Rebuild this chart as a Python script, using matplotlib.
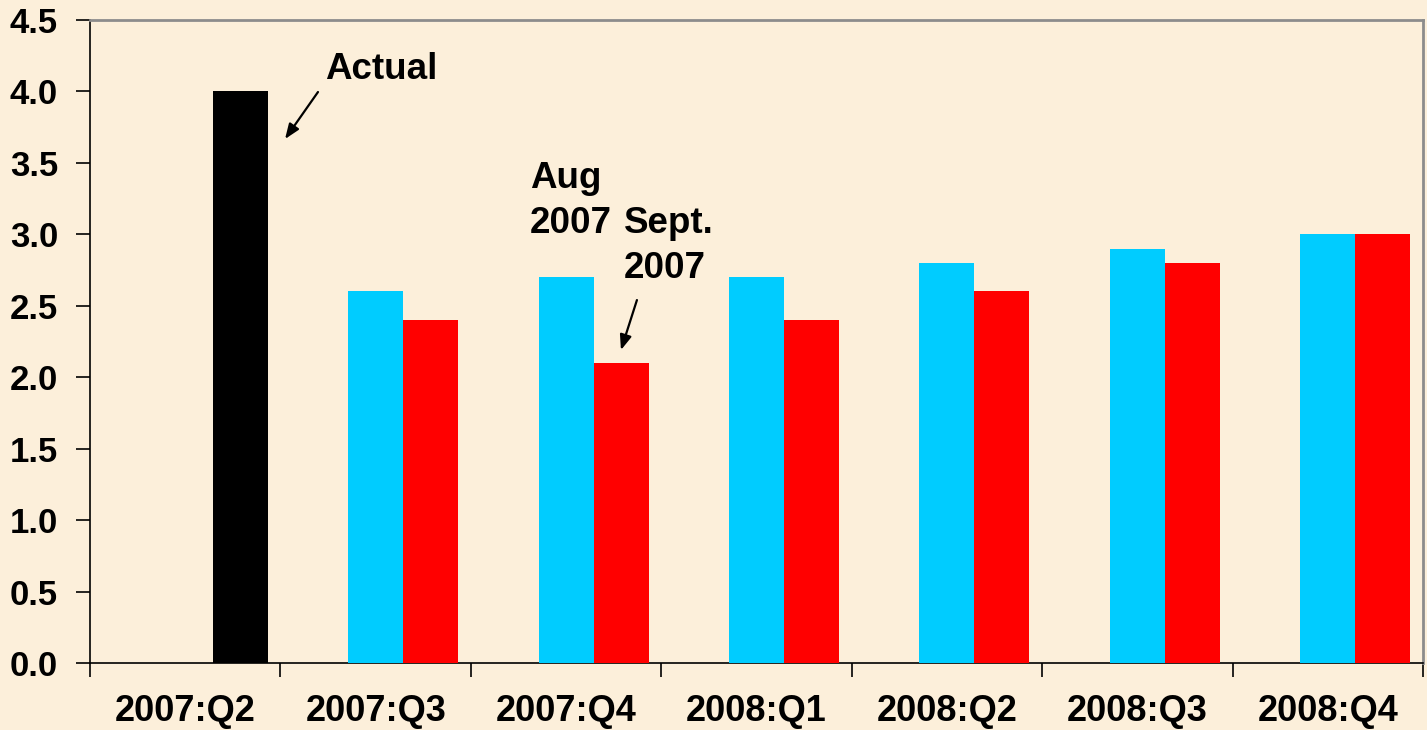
import numpy as np
import matplotlib.pyplot as plt
from matplotlib.ticker import FixedLocator, FormatStrFormatter

plt.rcParams['font.family'] = ['Liberation Sans', 'DejaVu Sans']
plt.rcParams['font.weight'] = 'bold'

# data
quarters = ['2007:Q2', '2007:Q3', '2007:Q4', '2008:Q1', '2008:Q2', '2008:Q3', '2008:Q4']
actual = [4.0, np.nan, np.nan, np.nan, np.nan, np.nan, np.nan]
aug_2007 = [np.nan, 2.6, 2.7, 2.7, 2.8, 2.9, 3.0]
sept_2007 = [np.nan, 2.4, 2.1, 2.4, 2.6, 2.8, 3.0]

bg = '#FCEFDA'
fig = plt.figure(figsize=(14.27, 7.30), dpi=100, facecolor=bg)
ax = fig.add_axes([0.0631, 0.0918, 0.9341, 0.8808], facecolor=bg)

x = np.arange(len(quarters))
w = 0.289
ax.bar(x, aug_2007, width=w, color='#00CCFF', zorder=3)
ax.bar(x + w, sept_2007, width=w, color='#FF0000', zorder=3)
ax.bar(x + w, actual, width=w, color='black', zorder=3)

ax.set_xlim(-0.5, len(quarters) - 0.5)
ax.set_ylim(0, 4.5)

# y axis
ax.yaxis.set_major_locator(FixedLocator(np.arange(0, 4.51, 0.5)))
ax.yaxis.set_major_formatter(FormatStrFormatter('%.1f'))
ax.tick_params(axis='y', direction='out', length=10, width=1.2, pad=13, labelsize=25)

# x axis: tick marks at category borders, labels at centers
ax.set_xticks(x)
ax.set_xticklabels(quarters)
ax.set_xticks(np.arange(-0.5, len(quarters), 1.0), minor=True)
ax.tick_params(axis='x', which='major', length=0, pad=22, labelsize=26)
ax.tick_params(axis='x', which='minor', direction='out', length=10, width=1.2)

for s in ['left', 'bottom']:
    ax.spines[s].set_color('black')
    ax.spines[s].set_linewidth(1.2)
for s in ['top', 'right']:
    ax.spines[s].set_color('#8C8C8C')
    ax.spines[s].set_linewidth(2)

arrow = dict(arrowstyle='-|>,head_length=0.9,head_width=0.35', color='black', lw=1.6,
             shrinkA=0, shrinkB=0)

fs = 26.5
ax.text(0.734, 4.087, 'Actual', fontsize=fs, fontweight='bold', va='baseline', ha='left')
ax.annotate('', xy=(0.524, 3.667), xytext=(0.697, 3.996), arrowprops=arrow)

ax.text(1.811, 3.324, 'Aug', fontsize=fs, fontweight='bold', va='baseline', ha='left')
ax.text(1.811, 3.009, '2007', fontsize=fs, fontweight='bold', va='baseline', ha='left')
ax.text(2.304, 3.009, 'Sept.', fontsize=fs, fontweight='bold', va='baseline', ha='left')
ax.text(2.304, 2.694, '2007', fontsize=fs, fontweight='bold', va='baseline', ha='left')
ax.annotate('', xy=(2.288, 2.190), xytext=(2.372, 2.540), arrowprops=arrow)

fig.savefig('out.png', dpi=100, facecolor=bg)
